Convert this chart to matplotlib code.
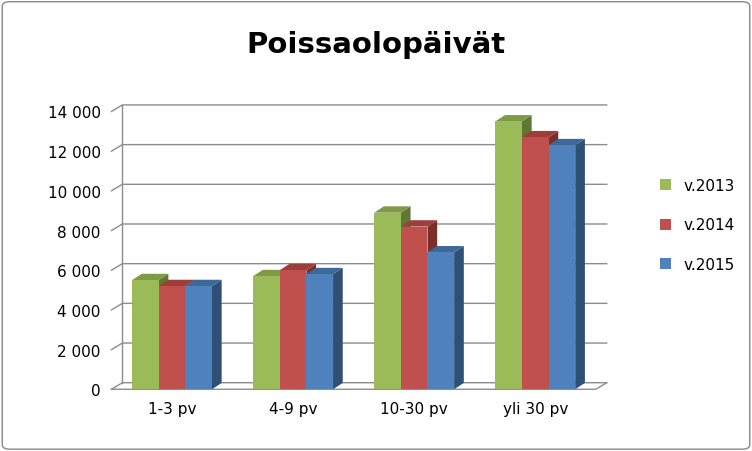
import matplotlib.pyplot as plt
from matplotlib.patches import Polygon, FancyBboxPatch

categories = ["1-3 pv", "4-9 pv", "10-30 pv", "yli 30 pv"]
series = ["v.2013", "v.2014", "v.2015"]
v2013 = [5500, 5700, 8900, 13500]
v2014 = [5200, 6000, 8200, 12700]
v2015 = [5200, 5800, 6900, 12300]
yticks = [0, 2000, 4000, 6000, 8000, 10000, 12000, 14000]
ytick_labels = ["0", "2 000", "4 000", "6 000", "8 000", "10 000", "12 000", "14 000"]

front = ["#9BBB59", "#C0504D", "#4F81BD"]
top = ["#7E9A45", "#9E3E3B", "#3F689A"]
side = ["#5F7634", "#7A2F2D", "#2F4F75"]

fig = plt.figure(figsize=(7.52, 4.52), dpi=100)
fig.patches.append(FancyBboxPatch((0.003, 0.004), 0.994, 0.99, boxstyle="round,pad=0,rounding_size=0.01",
                                  transform=fig.transFigure, fill=False, ec="#888888", lw=1))
ax = fig.add_axes([0.145, 0.13, 0.665, 0.64])
dx, dy = 0.09, 330
x0, x1 = -0.5, 3.5
for y in yticks:
    ax.plot([x0, x0 + dx, x1 + dx], [y, y + dy, y + dy], color="#8C8C8C", lw=1)
ax.plot([x0 + dx, x0 + dx], [dy, 14000 + dy], color="#8C8C8C", lw=1)
ax.plot([x0, x1, x1 + dx], [0, 0, dy], color="#8C8C8C", lw=1)

w = 0.22
bd, bdy = 0.08, 320
for s, vals in enumerate([v2013, v2014, v2015]):
    for i, v in enumerate(vals):
        xl = i + (s - 1) * w - w / 2
        xr = xl + w
        ax.add_patch(Polygon([(xr, 0), (xr + bd, bdy), (xr + bd, v + bdy), (xr, v)], fc=side[s], ec="none", zorder=3 + i * 3 + s))
        ax.add_patch(Polygon([(xl, v), (xl + bd, v + bdy), (xr + bd, v + bdy), (xr, v)], fc=top[s], ec="none", zorder=3 + i * 3 + s))
        ax.bar(xl, v, width=w, align="edge", color=front[s], zorder=3 + i * 3 + s,
               label=series[s] if i == 0 else None)

ax.set_xlim(x0 - 0.02, x1 + dx + 0.02)
ax.set_ylim(-150, 14000 + dy + 100)
ax.set_yticks(yticks)
ax.set_yticklabels(ytick_labels, fontsize=11)
ax.set_xticks(range(4))
ax.set_xticklabels(categories, fontsize=11)
ax.tick_params(length=0, pad=6)
for sp in ax.spines.values():
    sp.set_visible(False)
fig.text(0.5, 0.9, "Poissaolopäivät", ha="center", va="center", fontsize=21, fontweight="bold")
fig.legend(loc="center left", bbox_to_anchor=(0.86, 0.5), frameon=False, fontsize=11,
           handlelength=0.7, handleheight=0.7, labelspacing=1.6)
fig.savefig("out.png", dpi=100)
